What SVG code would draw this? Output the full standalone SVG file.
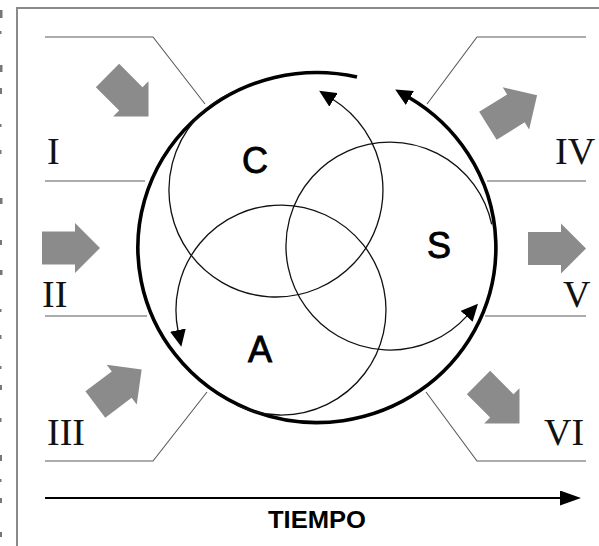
<svg xmlns="http://www.w3.org/2000/svg" width="599" height="546" viewBox="0 0 599 546">
  <style>
    .frame { stroke: #8a8a8a; stroke-width: 2; fill: none; }
    .leader { stroke: #5a5a5a; stroke-width: 1.1; fill: none; }
    .cycle { stroke: #000; stroke-width: 3.6; fill: none; }
    .loop { stroke: #111; stroke-width: 1.3; fill: none; }
    .time { stroke: #000; stroke-width: 2.2; fill: none; }
    .flow { fill: #8b8b8b; }
    .stage { font-family: "Liberation Sans", Arial, sans-serif; font-size: 36px; fill: #000; stroke: #000; stroke-width: 0.9; }
    .roman { font-family: "Liberation Serif", "Times New Roman", serif; font-size: 38px; fill: #111; }
    .axis { font-family: "Liberation Sans", Arial, sans-serif; font-size: 24px; font-weight: bold; fill: #000; }
    .margin rect { fill: #777; }
  </style>
  <defs>
    <marker id="head" viewBox="0 -8 17 16" markerWidth="17" markerHeight="16" refX="1" refY="0" markerUnits="userSpaceOnUse" orient="auto">
      <path d="M0,-8 L17,0 L0,8 z" fill="#000"/>
    </marker>
    <marker id="timeHead" viewBox="0 -7.5 21 15" markerWidth="21" markerHeight="15" refX="1" refY="0" markerUnits="userSpaceOnUse" orient="auto">
      <path d="M0,-7.5 L21,0 L0,7.5 z" fill="#000"/>
    </marker>
    <!-- block arrow, centred on the origin, pointing right -->
    <path id="block" d="M-29,-16.5 L4,-16.5 L4,-25 L29,0 L4,25 L4,16.5 L-29,16.5 z"/>
  </defs>

  <rect width="599" height="546" fill="#fff"/>

  <!-- edge of the neighbouring text column -->
  <g class="margin">
    <rect x="0" y="10" width="2.5" height="8"/>
    <rect x="0" y="31" width="1.5" height="3"/>
    <rect x="0" y="65" width="2.5" height="7"/>
    <rect x="0" y="88" width="2" height="6"/>
    <rect x="0" y="124" width="1.5" height="3"/>
    <rect x="0" y="150" width="1.5" height="4"/>
    <rect x="0" y="198" width="2.5" height="6"/>
    <rect x="0" y="240" width="2" height="5"/>
    <rect x="0" y="270" width="2.5" height="5"/>
    <rect x="0" y="309" width="1.5" height="3"/>
    <rect x="0" y="335" width="1.5" height="4"/>
    <rect x="0" y="366" width="1.5" height="3"/>
    <rect x="0" y="385" width="2" height="5"/>
    <rect x="0" y="418" width="1.5" height="4"/>
    <rect x="0" y="455" width="2" height="6"/>
    <rect x="0" y="479" width="1.5" height="3"/>
    <rect x="0" y="498" width="2" height="5"/>
    <rect x="0" y="532" width="2" height="5"/>
  </g>

  <!-- page frame -->
  <path class="frame" d="M17,546 L17,8 L599,8"/>

  <!-- leader lines framing the stage labels -->
  <g id="leaders">
    <polyline class="leader" points="45,37 153,37 205,104"/>
    <line class="leader" x1="45" y1="181" x2="145" y2="181"/>
    <line class="leader" x1="45" y1="316" x2="147" y2="316"/>
    <polyline class="leader" points="45,461 153,461 207,392"/>
    <polyline class="leader" points="586,37 477,37 427,104"/>
    <line class="leader" x1="487" y1="181" x2="586" y2="181"/>
    <line class="leader" x1="485" y1="316" x2="586" y2="316"/>
    <polyline class="leader" points="586,461 477,461 426,392"/>
  </g>

  <!-- connectors: main cycle and the three loops -->
  <g id="connectors">
    <path id="cycle" class="cycle" d="M357,77 A179,175 0 1 0 409,97.5" marker-end="url(#head)"/>
    <path id="loop-c" class="loop" d="M230.8,93 A107,107 0 1 0 332.7,99.3" marker-end="url(#head)"/>
    <path id="loop-s" class="loop" d="M491.7,224.4 A104,104 0 1 0 467.3,315.6" marker-end="url(#head)"/>
    <path id="loop-a" class="loop" d="M236.6,405.2 A105,105 0 1 0 178.1,331.1" marker-end="url(#head)"/>
    <line id="time-axis" class="time" x1="45" y1="498" x2="561" y2="498" marker-end="url(#timeHead)"/>
  </g>

  <!-- stage letters -->
  <g id="node-c"><text class="stage" x="242" y="173">C</text></g>
  <g id="node-s"><text class="stage" x="427" y="258">S</text></g>
  <g id="node-a"><text class="stage" x="248" y="362">A</text></g>

  <!-- inputs on the left -->
  <g id="stage-1">
    <use href="#block" class="flow" transform="translate(128,96) rotate(45)"/>
    <text class="roman" x="47" y="164">I</text>
  </g>
  <g id="stage-2">
    <use href="#block" class="flow" transform="translate(71,248)"/>
    <text class="roman" x="42" y="307">II</text>
  </g>
  <g id="stage-3">
    <use href="#block" class="flow" transform="translate(118.5,387) rotate(-37)"/>
    <text class="roman" x="47" y="445">III</text>
  </g>

  <!-- outputs on the right -->
  <g id="stage-4">
    <use href="#block" class="flow" transform="translate(512.5,110.5) rotate(-32)"/>
    <text class="roman" x="555" y="164">IV</text>
  </g>
  <g id="stage-5">
    <use href="#block" class="flow" transform="translate(557,248.5)"/>
    <text class="roman" x="563" y="307">V</text>
  </g>
  <g id="stage-6">
    <use href="#block" class="flow" transform="translate(499,403) rotate(45)"/>
    <text class="roman" x="544" y="445">VI</text>
  </g>

  <g id="axis-label">
    <text class="axis" x="317" y="528" text-anchor="middle" textLength="98" lengthAdjust="spacingAndGlyphs">TIEMPO</text>
  </g>
</svg>
